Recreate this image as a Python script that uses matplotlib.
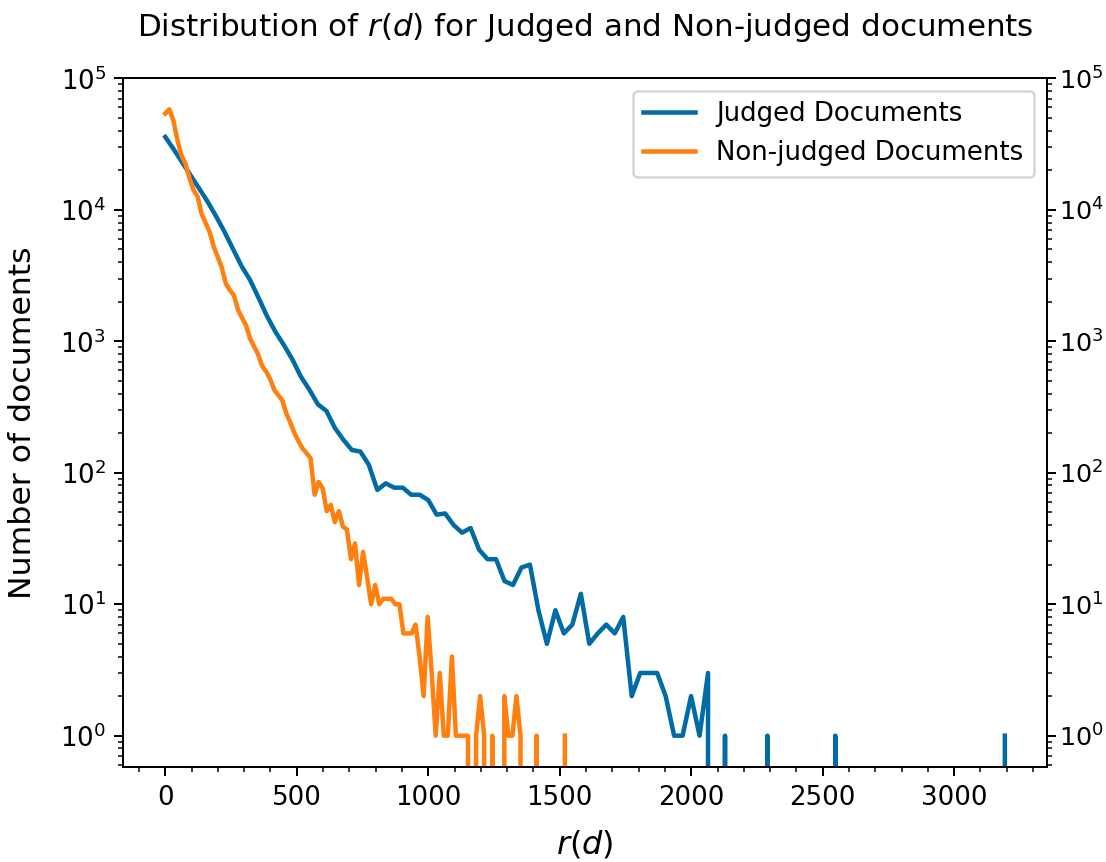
#!/usr/bin/env python3
"""
r(d) 分佈圖：已評判文件 vs 未評判文件（對數座標）
"""

import numpy as np
import matplotlib
matplotlib.use('Agg')
import matplotlib.pyplot as plt
from matplotlib.ticker import MultipleLocator

# 直方圖設定：兩組資料各 100 個 bin，從 0 到最大 r(d)
N_BINS = 100
JUDGED_MAX_RD = 3225
NONJUDGED_MAX_RD = 1535

# 每個 bin 的文件數（已評判）
judged_counts = [
    35800, 28800, 22900, 18200, 14500, 11500, 8900, 6760, 5010, 3720,
    2920, 2140, 1550, 1175, 933, 724, 537, 427, 331, 295,
    219, 178, 149, 145, 115, 74, 83, 77, 77, 68,
    68, 62, 48, 49, 40, 35, 38, 26, 22, 22,
    15, 14, 19, 20, 9, 5, 9, 6, 7, 12,
    5, 6, 7, 6, 8, 2, 3, 3, 3, 2,
    1, 1, 2, 1, 3, 0, 1, 0, 0, 0,
    0, 1, 0, 0, 0, 0, 0, 0, 0, 1,
    0, 0, 0, 0, 0, 0, 0, 0, 0, 0,
    0, 0, 0, 0, 0, 0, 0, 0, 0, 1,
]

# 每個 bin 的文件數（未評判）
nonjudged_counts = [
    54000, 58100, 47900, 33900, 26000, 22400, 17400, 14100, 12600, 9330,
    7940, 6760, 5250, 4370, 3630, 2750, 2450, 2240, 1740, 1510,
    1320, 1050, 912, 794, 646, 589, 513, 427, 389, 355,
    282, 240, 200, 174, 153, 141, 129, 68, 85, 76,
    51, 57, 42, 51, 39, 37, 22, 29, 14, 25,
    16, 10, 14, 10, 11, 11, 11, 10, 10, 6,
    6, 6, 7, 4, 2, 8, 3, 1, 3, 1,
    1, 4, 1, 1, 1, 1, 0, 1, 2, 1,
    0, 1, 0, 0, 2, 1, 1, 2, 1, 0,
    0, 0, 1, 0, 0, 0, 0, 0, 0, 1,
]

SERIES_LABELS = ['Judged Documents', 'Non-judged Documents']
SERIES_COLORS = ['#006BA4', '#FF800E']


def bin_starts(max_rd, n_bins=N_BINS):
    """回傳每個 bin 的左邊界"""
    return np.linspace(0, max_rd, n_bins + 1)[:-1]


def plot_distribution():
    """繪製兩組 r(d) 分佈"""
    fig = plt.figure(figsize=(1106 / 180, 862 / 180), dpi=180)
    ax = fig.add_axes([0.1115, 0.1102, 0.835, 0.7993])

    ax.plot(bin_starts(JUDGED_MAX_RD), judged_counts,
            color=SERIES_COLORS[0], linewidth=1.8, label=SERIES_LABELS[0])
    ax.plot(bin_starts(NONJUDGED_MAX_RD), nonjudged_counts,
            color=SERIES_COLORS[1], linewidth=1.8, label=SERIES_LABELS[1])
    ax.set_yscale('log')
    ax.autoscale_view()

    ax.xaxis.set_minor_locator(MultipleLocator(100))
    ax.tick_params(labelsize=10.4)
    ax.set_xlabel('$r(d)$', fontsize=12.8, labelpad=7)
    ax.set_ylabel('Number of documents', fontsize=12.6, labelpad=9)
    ax.set_title('Distribution of $r(d)$ for Judged and Non-judged documents',
                 fontsize=12.4, pad=17)
    ax.legend(loc='upper right', fontsize=10.4)

    # 右側 y 軸：同樣的對數刻度
    ax2 = ax.twinx()
    ax2.set_yscale('log')
    ax2.set_ylim(ax.get_ylim())
    ax2.tick_params(labelsize=10.2, pad=1.5)

    fig.savefig('out.png', dpi=180)


if __name__ == "__main__":
    plot_distribution()
